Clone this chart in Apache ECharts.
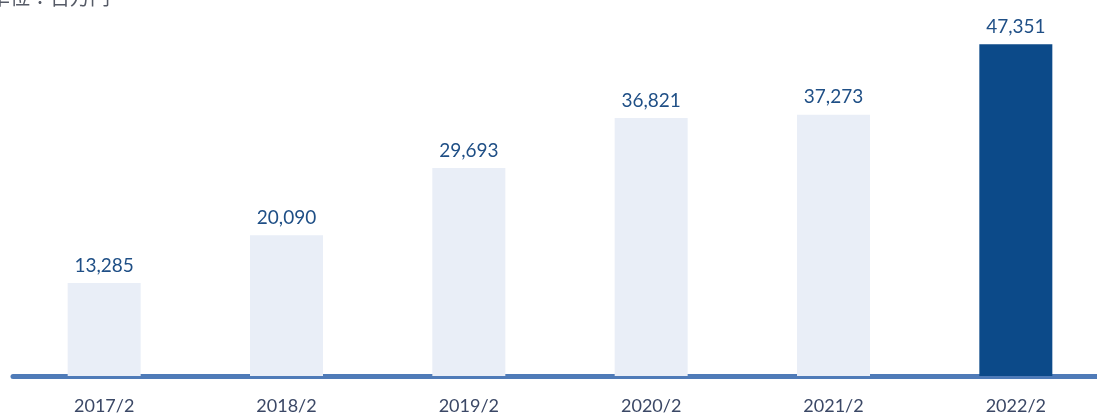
<!DOCTYPE html>
<html>
<head>
<meta charset="utf-8">
<script src="https://cdn.jsdelivr.net/npm/echarts@6/dist/echarts.min.js"></script>
<style>
  html, body { margin: 0; padding: 0; background: #ffffff; overflow: hidden; }
  /* canvas runs slightly past the window so the last bar sits near the edge */
  #chart { width: 1107px; height: 418px; }
</style>
</head>
<body>
<div id="chart"></div>
<script>
const categories = ['2017/2', '2018/2', '2019/2', '2020/2', '2021/2', '2022/2'];
const values = [13285, 20090, 29693, 36821, 37273, 47351];
const unitText = '単位：百万円';

const lightBar = '#e9eef7';
const darkBar = '#0c4a89';

const chart = echarts.init(document.getElementById('chart'));
chart.setOption({
  animation: false,
  graphic: [{
    type: 'text',
    left: -10,
    top: -13,
    style: { text: unitText, fill: '#555a66', font: '20px "Noto Sans CJK JP"' }
  }],
  grid: { left: 13, right: 0, top: 20, bottom: 42 },
  xAxis: {
    type: 'category',
    data: categories,
    axisLine: { show: true, lineStyle: { color: '#4f7bb8', width: 5 } },
    axisTick: { show: false },
    axisLabel: { color: '#3b4866', fontSize: 18, fontFamily: 'Lato', margin: 21 }
  },
  yAxis: {
    type: 'value',
    min: 0,
    max: 50800,
    show: false,
    splitLine: { show: false }
  },
  series: [{
    type: 'bar',
    barWidth: 73,
    data: values.map((v, i) => ({
      value: v,
      itemStyle: { color: i === values.length - 1 ? darkBar : lightBar }
    })),
    label: {
      show: true,
      position: 'top',
      distance: 8,
      color: '#1f4f86',
      fontSize: 19,
      fontFamily: 'Lato',
      formatter: p => p.value.toLocaleString('en-US')
    }
  }]
});
</script>
</body>
</html>
